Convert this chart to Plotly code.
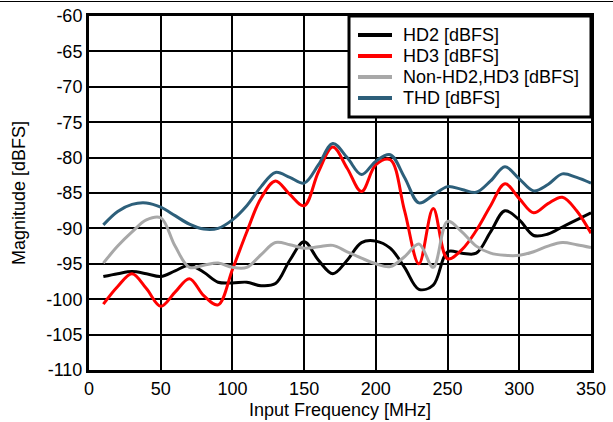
import plotly.graph_objects as go

freq = [10, 20, 30, 40, 50, 60, 70, 80, 90, 100, 110, 120, 130, 140, 150, 160, 170, 180,
        190, 200, 210, 220, 230, 240, 250, 260, 270, 280, 290, 300, 310, 320, 330, 340, 350]

hd2 = [-96.8, -96.4, -96.1, -96.4, -96.8, -96.0, -95.2, -96.2, -97.6, -97.7, -97.6, -98.1,
       -97.8, -94.5, -91.9, -94.5, -96.4, -94.5, -92.0, -91.8, -92.8, -95.5, -98.6, -98.0,
       -93.3, -93.5, -93.5, -90.5, -87.5, -88.8, -91.0, -90.8, -89.8, -88.8, -87.8]

hd3 = [-100.7, -98.2, -96.4, -98.5, -101.0, -99.0, -97.1, -99.5, -100.8, -95.8, -90.5, -85.7,
       -83.3, -85.2, -86.8, -82.0, -78.5, -81.5, -84.8, -81.0, -80.3, -87.5, -95.0, -87.2,
       -94.3, -93.0, -90.3, -86.8, -83.7, -85.8, -87.8, -86.5, -85.6, -87.5, -90.7]

non_hd = [-94.9, -92.5, -90.5, -88.8, -88.5, -92.5, -95.5, -95.2, -94.9, -95.5, -95.5, -93.7,
          -92.0, -92.3, -92.8, -92.6, -92.4, -93.3, -94.2, -95.0, -95.4, -94.0, -92.2, -95.5,
          -89.0, -90.5, -92.5, -93.5, -93.8, -93.8, -93.3, -92.5, -92.0, -92.3, -92.7]

thd = [-89.5, -87.6, -86.6, -86.4, -87.0, -88.2, -89.4, -90.1, -90.0, -88.8, -86.8, -84.1,
       -82.1, -82.8, -83.6, -81.0, -78.0, -80.0, -82.4, -80.5, -79.6, -82.8, -86.4, -85.3,
       -84.1, -84.5, -84.9, -83.3, -81.3, -83.0, -84.7, -83.8, -82.3, -82.8, -83.6]

x_ticks = [0, 50, 100, 150, 200, 250, 300, 350]
y_ticks = [-110, -105, -100, -95, -90, -85, -80, -75, -70, -65, -60]
y_tick_labels = ["-110", "-105", "-100", "-95", "-90", "-85", "-80", "-75", "-70", "-65", "-60"]

series = [
    ("HD2 [dBFS]", hd2, "#000000"),
    ("HD3 [dBFS]", hd3, "#ff0000"),
    ("Non-HD2,HD3 [dBFS]", non_hd, "#a8a8a8"),
    ("THD [dBFS]", thd, "#2d5f7a"),
]

W, H = 613, 422
ML, MR, MT, MB = 89, 22, 16, 52
PW, PH = W - ML - MR, H - MT - MB


def px_x(px):
    return (px - ML) / PW


def px_y(py):
    return (H - MB - py) / PH


fig = go.Figure()
for name, vals, col in series:
    fig.add_trace(go.Scatter(
        x=freq, y=vals, name=name, mode="lines", showlegend=False,
        line=dict(color=col, width=3, shape="spline", smoothing=1.0),
    ))

font_family = "Liberation Sans, Arial, sans-serif"
fs = 18

# Legend box drawn in paper space
shapes = [
    dict(type="line", xref="paper", yref="paper", x0=px_x(-10), x1=px_x(W + 10),
         y0=px_y(1.5), y1=px_y(1.5), line=dict(color="black", width=1)),
    dict(type="rect", xref="paper", yref="paper", x0=px_x(349), x1=px_x(591),
         y0=px_y(16), y1=px_y(117), fillcolor="white", line=dict(color="black", width=3),
         layer="above"),
]
annotations = []
legend_rows = [35, 56, 77, 98]
for (name, vals, col), ry in zip(series, legend_rows):
    shapes.append(dict(type="line", xref="paper", yref="paper", x0=px_x(358), x1=px_x(392),
                       y0=px_y(ry), y1=px_y(ry), line=dict(color=col, width=4), layer="above"))
    annotations.append(dict(xref="paper", yref="paper", x=px_x(401), y=px_y(ry),
                            xanchor="left", yanchor="middle", text=name, showarrow=False,
                            font=dict(family=font_family, size=fs, color="black")))

fig.update_layout(
    width=W, height=H,
    margin=dict(l=ML, r=MR, t=MT, b=MB),
    paper_bgcolor="white", plot_bgcolor="white",
    font=dict(family=font_family, size=fs, color="black"),
    showlegend=False,
    xaxis=dict(
        range=[0, 350], tickvals=x_ticks, automargin=False,
        showgrid=True, gridcolor="black", gridwidth=1.5,
        showline=True, linecolor="black", linewidth=3, mirror=True,
        zeroline=False, ticks="", ticklen=0,
        tickfont=dict(size=fs),
        title=dict(text="Input Frequency [MHz]", font=dict(size=fs), standoff=6),
    ),
    yaxis=dict(
        range=[-110, -60], tickvals=y_ticks, ticktext=y_tick_labels, automargin=False,
        showgrid=True, gridcolor="black", gridwidth=1.5,
        showline=True, linecolor="black", linewidth=3, mirror=True,
        zeroline=False, ticks="", ticklen=0,
        tickfont=dict(size=fs),
        title=dict(text="Magnitude [dBFS]", font=dict(size=fs), standoff=17),
    ),
    shapes=shapes,
    annotations=annotations,
)

fig.write_html("out.html", config={"displayModeBar": False},
               post_script="document.body.style.margin='0';")
